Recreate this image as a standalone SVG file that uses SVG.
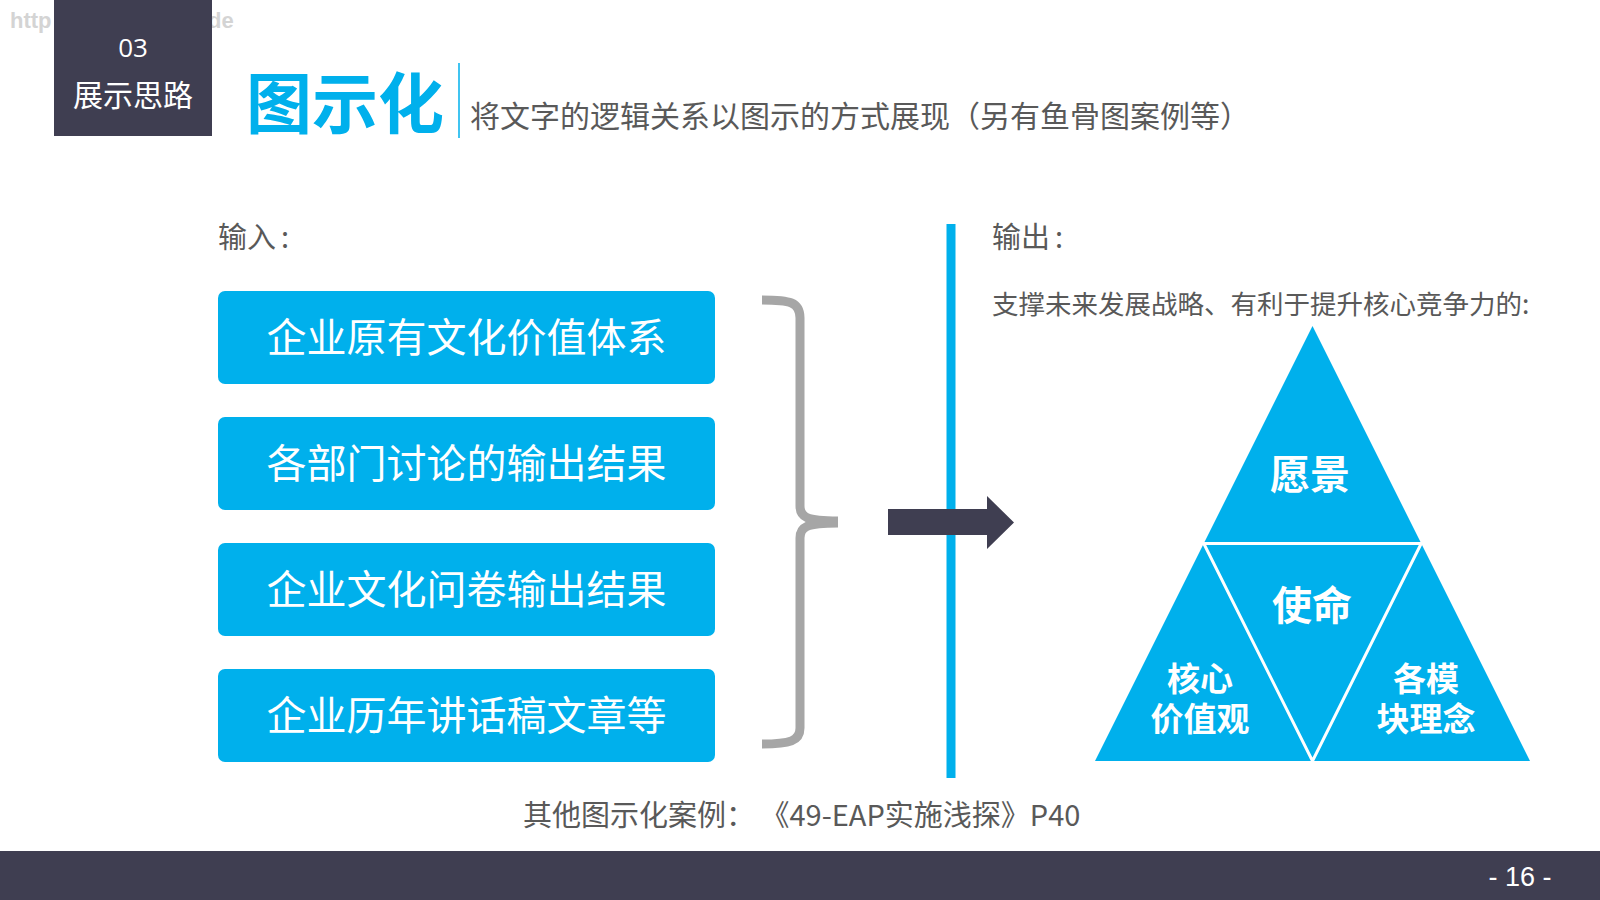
<svg xmlns="http://www.w3.org/2000/svg" width="1600" height="900" viewBox="0 0 1600 900">
<style>
.cjk{font-family:"Noto Sans CJK SC","Noto Sans",sans-serif}
.gray{fill:#595959}
.box{fill:#00b0ec}
.boxtxt{font-family:"Noto Sans CJK SC",sans-serif;font-size:40px;fill:#ffffff;text-anchor:middle}
.pyr{font-family:"Noto Sans CJK SC",sans-serif;font-weight:bold;fill:#ffffff;text-anchor:middle}
</style>
<rect x="0" y="0" width="1600" height="900" fill="#ffffff"/>
<g id="watermark">
<text x="10" y="28" font-family="'Liberation Sans',sans-serif" font-weight="bold" font-size="22" fill="#d4d4d4">http</text>
<text x="208" y="28" font-family="'Liberation Sans',sans-serif" font-weight="bold" font-size="22" fill="#d4d4d4">de</text>
</g>
<g id="header">
<rect x="54" y="0" width="158" height="136" fill="#3f3e51"/>
<text x="133" y="57" font-family="'Open Sans','Noto Sans',sans-serif" font-size="26" fill="#ffffff" text-anchor="middle">03</text>
<text x="133" y="106" class="cjk" font-size="30" fill="#ffffff" text-anchor="middle">展示思路</text>
</g>
<g id="title">
<text x="246" y="128" class="cjk" font-size="66" font-weight="bold" fill="#00b0ec">图示化</text>
<line x1="459" y1="63" x2="459" y2="138" stroke="#00b0ec" stroke-width="1.5"/>
<text x="470" y="127" class="cjk gray" font-size="30">将文字的逻辑关系以图示的方式展现（另有鱼骨图案例等）</text>
</g>
<g id="input-label">
<text x="218" y="248" class="cjk gray" font-size="29">输入<tspan dx="5">:</tspan></text>
</g>
<g id="input1"><rect class="box" x="218" y="291" width="497" height="93" rx="7"/><text class="boxtxt" x="466.5" y="352">企业原有文化价值体系</text></g>
<g id="input2"><rect class="box" x="218" y="417" width="497" height="93" rx="7"/><text class="boxtxt" x="466.5" y="478">各部门讨论的输出结果</text></g>
<g id="input3"><rect class="box" x="218" y="543" width="497" height="93" rx="7"/><text class="boxtxt" x="466.5" y="604">企业文化问卷输出结果</text></g>
<g id="input4"><rect class="box" x="218" y="669" width="497" height="93" rx="7"/><text class="boxtxt" x="466.5" y="730">企业历年讲话稿文章等</text></g>
<g id="divider">
<rect x="946.5" y="224" width="9" height="554" fill="#00b0ec"/>
</g>
<g id="connectors">
<path d="M762,300 C790,300 800,302 800,318 L800,506 C800,517 806,521 838,521 M838,523 C806,523 800,527 800,538 L800,728 C800,741 790,744 762,744" fill="none" stroke="#a6a6a6" stroke-width="9"/>
<polygon points="888,509 987,509 987,496 1014,522.5 987,549 987,535 888,535" fill="#3f3e51"/>
</g>
<g id="output-label">
<text x="992" y="248" class="cjk gray" font-size="29">输出<tspan dx="5">:</tspan></text>
<text x="992" y="314" class="cjk gray" font-size="26.5">支撑未来发展战略、有利于提升核心竞争力的:</text>
</g>
<g id="pyramid">
<polygon points="1312.5,326 1530,761 1095,761" fill="#00b0ec"/>
<polygon points="1203.75,543.5 1421.25,543.5 1312.5,761" fill="none" stroke="#ffffff" stroke-width="3" stroke-linejoin="miter"/>
</g>
<g id="vision"><text class="pyr" x="1310" y="489" font-size="40">愿景</text></g>
<g id="mission"><text class="pyr" x="1312" y="620" font-size="40">使命</text></g>
<g id="core-values"><text class="pyr" x="1200" y="691" font-size="33">核心</text><text class="pyr" x="1200" y="731" font-size="33">价值观</text></g>
<g id="module-ideas"><text class="pyr" x="1426" y="691" font-size="33">各模</text><text class="pyr" x="1426" y="731" font-size="33">块理念</text></g>
<g id="footer-note">
<text x="523" y="826" class="cjk gray" font-size="29">其他图示化案例：<tspan dx="20">《49-EAP实施浅探》P40</tspan></text>
</g>
<g id="bottom-bar">
<rect x="0" y="851" width="1600" height="49" fill="#3f3e51"/>
<text x="1520" y="886" font-family="'Liberation Sans',sans-serif" font-size="27" fill="#ffffff" text-anchor="middle">- 16 -</text>
</g>
</svg>
